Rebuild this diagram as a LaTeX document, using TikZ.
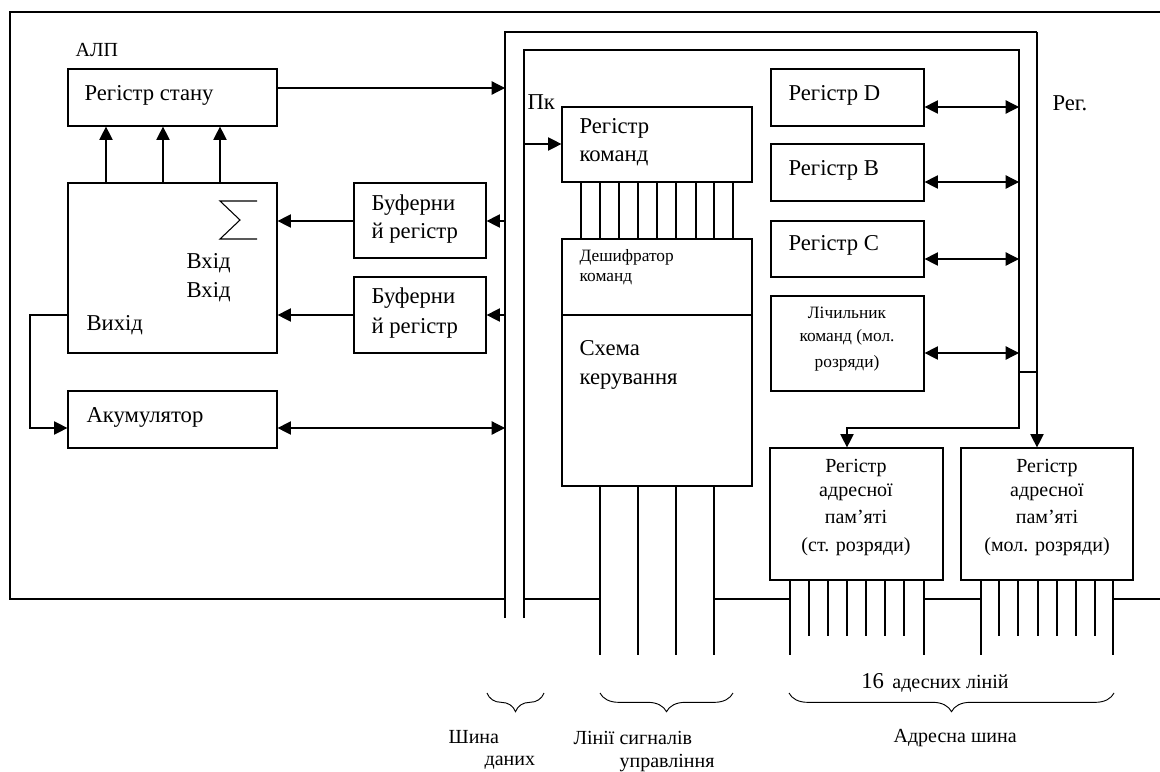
\documentclass[tikz,border=0pt]{standalone}
\usepackage{fontspec}
\setmainfont{Liberation Serif}
\usetikzlibrary{arrows.meta,fit,decorations.pathreplacing}
\newcommand\mainsz{\fontsize{17}{20}\selectfont}
\newcommand\midsz{\fontsize{15}{18}\selectfont}
\newcommand\smlsz{\fontsize{13}{15}\selectfont}
\begin{document}
\begin{tikzpicture}[x=0.75pt,y=-0.75pt,line width=0.9pt,
  box/.style={draw,inner sep=0pt,line width=0.9pt},
  tip/.style={-{Triangle[length=10pt,width=10pt]}},
  both/.style={{Triangle[length=10pt,width=10pt]}-{Triangle[length=10pt,width=10pt]}},
  txt/.style={inner sep=0pt,anchor=west,font=\mainsz},
  ctx/.style={inner sep=0pt,anchor=center,font=\midsz},
  brc/.style={decorate,decoration={brace,mirror,amplitude=14pt},line width=0.7pt}]
\useasboundingbox (0,0) rectangle (1160,771);
% boxes
\node[box,fit={(68,69)(277,126)}] (rs) {};
\node[box,fit={(68,183)(277,353)}] (alu) {};
\node[box,fit={(354,183)(486,258)}] (buf1) {};
\node[box,fit={(354,277)(486,353)}] (buf2) {};
\node[box,fit={(68,391)(277,448)}] (acc) {};
\node[box,fit={(562,107)(752,182)}] (rk) {};
\node[box,fit={(562,239)(752,486)}] (dec) {};
\node[box,fit={(771,69)(924,126)}] (rD) {};
\node[box,fit={(771,144)(924,201)}] (rB) {};
\node[box,fit={(771,221)(924,277)}] (rC) {};
\node[box,fit={(771,296)(924,391)}] (cnt) {};
\node[box,fit={(770,448)(943,580)}] (ar1) {};
\node[box,fit={(961,448)(1133,580)}] (ar2) {};
\draw (dec.west |- 0,315) -- (dec.east |- 0,315);
% bus coordinates
\coordinate (ob) at (505,32);
\coordinate (ib) at (524,50);
\coordinate (obr) at (1037,32);
\coordinate (ibr) at (1019,50);
\coordinate (obB) at (505,618);
\coordinate (ibB) at (524,618);
\coordinate (turn) at (1019,428);
% outer frame
\draw (1160,12) -- (10,12) -- (10,599) -- (ob |- 0,599);
\draw (ib |- 0,599) -- (600,599);
\draw (714,599) -- (790,599);
\draw (924,599) -- (981,599);
\draw (1113,599) -- (1160,599);
% buses
\draw (obB) -- (ob) -- (obr);
\draw[tip] (obr) -- (obr |- ar2.north);
\draw[tip] (ibB) -- (ib) -- (ibr) -- (turn) -| (ar1.north -| 847,0);
\draw (ibr |- 0,372) -- (obr |- 0,372);
% ALU side connectors
\draw[tip] (rs.east |- 0,88) -- (ob |- 0,88);
\foreach \x in {106,163,220} \draw[tip] (\x,0 |- alu.north) -- (\x,0 |- rs.south);
\draw[tip] (buf1.west |- 0,221) -- (alu.east |- 0,221);
\draw[tip] (ob |- 0,221) -- (buf1.east |- 0,221);
\draw[tip] (buf2.west |- 0,315) -- (alu.east |- 0,315);
\draw[tip] (ob |- 0,315) -- (buf2.east |- 0,315);
\draw[tip] (alu.west |- 0,315) -- (30,315) -- (30,428) -- (acc.west |- 0,428);
\draw[both] (acc.east |- 0,428) -- (ob |- 0,428);
% control side
\draw[tip] (ib |- 0,144) -- (rk.west |- 0,144);
\foreach \x in {581,600,619,638,657,676,696,714,733} \draw (\x,0 |- rk.south) -- (\x,0 |- dec.north);
\foreach \x in {600,638,676,714} \draw (\x,0 |- dec.south) -- (\x,655);
% registers
\draw[both] (rD.east |- 0,107) -- (ibr |- 0,107);
\draw[both] (rB.east |- 0,182) -- (ibr |- 0,182);
\draw[both] (rC.east |- 0,259) -- (ibr |- 0,259);
\draw[both] (cnt.east |- 0,353) -- (ibr |- 0,353);
% address lines
\foreach \x in {790,924} \draw (\x,0 |- ar1.south) -- (\x,655);
\foreach \x in {809,828,847,866,885,904} \draw (\x,0 |- ar1.south) -- (\x,636);
\foreach \x in {981,1113} \draw (\x,0 |- ar2.south) -- (\x,655);
\foreach \x in {999,1018,1038,1057,1076,1095} \draw (\x,0 |- ar2.south) -- (\x,636);
% sigma
\draw[line width=0.8pt] (257,201) -- (220,201) -- (240,220) -- (220,239) -- (257,239);
% texts
\node[txt,font=\midsz] (t1) at (75,50) {АЛП};
\node[txt] (t2) at (84,95) {Регістр стану};
\node[txt] (t3) at (186,263) {Вхід};
\node[txt] (t4) at (186,292) {Вхід};
\node[txt] (t5) at (86,325) {Вихід};
\node[txt] (t6) at (371,205) {Буферни};
\node[txt] (t7) at (371,233) {й регістр};
\node[txt] (t8) at (371,298) {Буферни};
\node[txt] (t9) at (371,328) {й регістр};
\node[txt] (t10) at (86,417) {Акумулятор};
\node[txt] (t11) at (527,102) {Пк};
\node[txt] (t12) at (579,128) {Регістр};
\node[txt] (t13) at (579,158) {команд};
\node[txt,font=\smlsz] (t14) at (579,257) {Дешифратор};
\node[txt,font=\smlsz] (t15) at (579,279) {команд};
\node[txt] (t16) at (579,348) {Схема};
\node[txt] (t17) at (579,382) {керування};
\node[txt] (t18) at (788,95) {Регістр D};
\node[txt] (t19) at (788,170) {Регістр B};
\node[txt] (t20) at (788,245) {Регістр C};
\node[ctx,font=\smlsz] (t21) at (847,313) {Лічильник};
\node[ctx,font=\smlsz] (t22) at (847,337) {команд (мол.};
\node[ctx,font=\smlsz] (t23) at (847,363) {розряди)};
\node[txt] (t24) at (1052,103) {Рег.};
\node[ctx] (t25) at (856,468) {Регістр};
\node[ctx] (t26) at (856,492) {адресної};
\node[ctx] (t27) at (856,517) {пам’яті};
\node[ctx] (t28) at (856,547) {(ст. розряди)};
\node[ctx] (t29) at (1047,468) {Регістр};
\node[ctx] (t30) at (1047,492) {адресної};
\node[ctx] (t31) at (1047,517) {пам’яті};
\node[ctx] (t32) at (1047,547) {(мол. розряди)};
\node[ctx] (t33) at (935,683) {{\mainsz 16}\, адесних ліній};
\node[txt,font=\midsz] (t34) at (448,737) {Шина};
\node[txt,font=\midsz] (t35) at (484,763) {даних};
\node[txt,font=\midsz] (t36) at (573,738) {Лінії сигналів};
\node[txt,font=\midsz] (t37) at (619,763) {управління};
\node[txt,font=\midsz] (t38) at (893,738) {Адресна шина};
% braces
\draw[brc] (487,693) -- (544,693);
\draw[brc] (600,693) -- (733,693);
\draw[brc] (789,693) -- (1114,693);
\end{tikzpicture}
\end{document}
